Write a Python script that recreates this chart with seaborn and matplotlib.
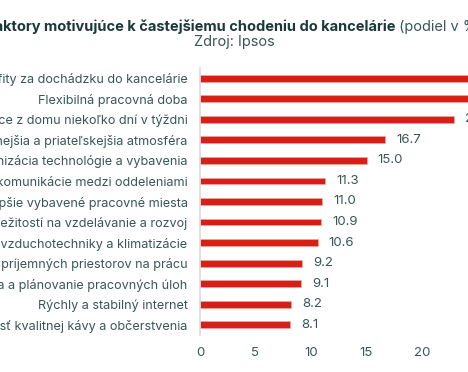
import matplotlib
matplotlib.use("Agg")
import matplotlib.pyplot as plt
import seaborn as sns
import pandas as pd

# Data
labels = [
    "Benefity za dochádzku do kancelárie",
    "Flexibilná pracovná doba",
    "Možnosť práce z domu niekoľko dní v týždni",
    "Príjemnejšia a priateľskejšia atmosféra",
    "Modernizácia technológie a vybavenia",
    "Zlepšenie komunikácie medzi oddeleniami",
    "Lepšie vybavené pracovné miesta",
    "Viac príležitostí na vzdelávanie a rozvoj",
    "Zlepšenie vzduchotechniky a klimatizácie",
    "Vytvorenie príjemných priestorov na prácu",
    "Lepšia organizácia a plánovanie pracovných úloh",
    "Rýchly a stabilný internet",
    "Dostupnosť kvalitnej kávy a občerstvenia",
]
values = [27.0, 25.6, 22.9, 16.7, 15.0, 11.3, 11.0, 10.9, 10.6, 9.2, 9.1, 8.2, 8.1]
xticks = [0, 5, 10, 15, 20, 25, 30]

df = pd.DataFrame({"faktor": labels, "podiel": values})

sns.set_theme(style="white")
plt.rcParams["font.family"] = ["Inter", "DejaVu Sans"]

text_col = "#3a5656"
title_col = "#1c3838"

fig = plt.figure(figsize=(4.68, 3.72), dpi=100)
ax = fig.add_axes([200 / 468, 1 - 335 / 372, 333 / 468, (335 - 68) / 372])

sns.barplot(data=df, x="podiel", y="faktor", color="#d61f17", width=0.33,
            saturation=1, ax=ax, edgecolor="#f2a9a5", linewidth=0.4)

ax.bar_label(ax.containers[0], fmt="%.1f", padding=8, color=text_col, fontsize=9.5)

ax.set_xlim(0, 30)
ax.set_xticks(xticks)
ax.set_xlabel("")
ax.set_ylabel("")
ax.tick_params(axis="x", length=0, pad=9, labelsize=9.5, labelcolor=text_col)
ax.tick_params(axis="y", length=0, pad=9, labelsize=9.1, labelcolor=text_col)
for s in ["top", "right", "bottom"]:
    ax.spines[s].set_visible(False)
ax.spines["left"].set_color("#d9d9d9")
ax.spines["left"].set_linewidth(1.2)

# title: bold part + normal part, centered together
fig.canvas.draw()
r = fig.canvas.get_renderer()
t1 = fig.text(0, 0.927, "Faktory motivujúce k častejšiemu chodeniu do kancelárie",
              fontsize=10.5, fontweight="bold", color=title_col, va="center")
t2 = fig.text(0, 0.927, " (podiel v %)", fontsize=10.5, color=text_col, va="center")
w1 = t1.get_window_extent(r).width
w2 = t2.get_window_extent(r).width
x0 = 234 - (w1 + w2) / 2
t1.set_x(x0 / 468)
t2.set_x((x0 + w1) / 468)
fig.text(0.5, 1 - 42 / 372, "Zdroj: Ipsos", fontsize=10.5, color=text_col,
         ha="center", va="center")

fig.savefig("out.png", dpi=100)
